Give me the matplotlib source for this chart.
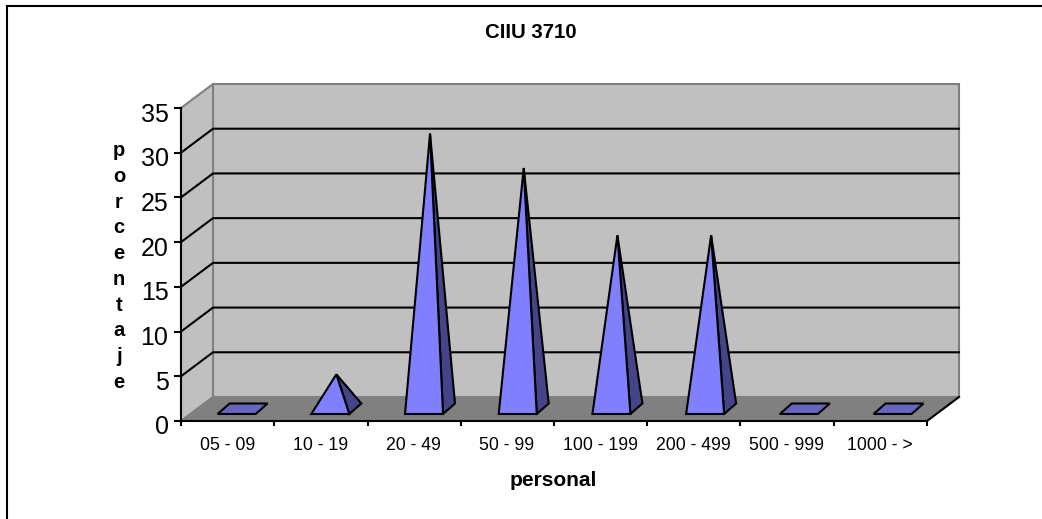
import matplotlib
matplotlib.use('Agg')
import matplotlib.pyplot as plt
from matplotlib.lines import Line2D
from matplotlib.patches import Polygon
from matplotlib.transforms import ScaledTranslation

categorias = ['05 - 09', '10 - 19', '20 - 49', '50 - 99', '100 - 199', '200 - 499', '500 - 999', '1000 - >']
porcentaje = [0, 3.85, 30.77, 26.92, 19.4, 19.4, 0, 0]
y_ticks = [0, 5, 10, 15, 20, 25, 30, 35]

W, H = 1042, 519
plt.rcParams['font.family'] = ['Liberation Sans', 'DejaVu Sans']

fig = plt.figure(figsize=(W / 100, H / 100), dpi=100)
ax = fig.add_axes([181 / W, 1 - 421 / H, 746 / W, 313 / H])
ax.set_xlim(-0.5, 7.5)
ax.set_ylim(0, 35)
ax.patch.set_visible(False)

# pixeles -> unidades de datos
px = 8 / 746
py = 35 / 313
dx, dy = 32 * px, 24 * py      # profundidad de la caja 3D
x0, x1 = -0.5, 7.5


def poly(pts, **kw):
    ax.add_patch(Polygon(pts, closed=True, clip_on=False, **kw))


# paredes y piso
poly([(x0 + dx, dy), (x1 + dx, dy), (x1 + dx, 35 + dy), (x0 + dx, 35 + dy)],
     facecolor='#C0C0C0', edgecolor='#808080', lw=1.5, zorder=1)
poly([(x0, 0), (x0 + dx, dy), (x0 + dx, 35 + dy), (x0, 35)],
     facecolor='#C0C0C0', edgecolor='#808080', lw=1.5, zorder=1)
poly([(x0, 0), (x1, 0), (x1 + dx, dy), (x0 + dx, dy)],
     facecolor='#808080', edgecolor='#808080', lw=1, zorder=2)

# lineas de la grilla
for t in y_ticks[1:-1]:
    ax.plot([x0, x0 + dx, x1 + dx], [t, t + dy, t + dy], color='black', lw=1.5,
            clip_on=False, zorder=3)
ax.plot([x1, x1 + dx], [0, dy], color='black', lw=1.5, clip_on=False, zorder=3)

# piramides
half = 19 * px
prof_x, prof_y = 12 * px, 10.5 * py
centro = 9 * px
paso = 93.7 * px     # en el original las piramides quedan un poco mas separadas
base_y = 7 * py
for i, v in enumerate(porcentaje):
    xc = i * paso + centro
    xl = xc - half
    xr = xc + half
    yb = base_y
    if v == 0:
        poly([(xl, yb), (xr, yb), (xr + prof_x, yb + prof_y), (xl + prof_x, yb + prof_y)],
             facecolor='#6666C0', edgecolor='black', lw=1.5, joinstyle='miter', zorder=5)
        continue
    apex = (xc + prof_x / 2, yb + prof_y / 2 + v)
    poly([(xr, yb), (xr + prof_x, yb + prof_y), apex],
         facecolor='#444488', edgecolor='black', lw=1.5, joinstyle='miter', zorder=5)
    poly([(xl, yb), (xr, yb), apex],
         facecolor='#8080FF', edgecolor='black', lw=1.5, joinstyle='miter', zorder=6)

# ejes
for s in ['top', 'right']:
    ax.spines[s].set_visible(False)
for s in ['left', 'bottom']:
    ax.spines[s].set_linewidth(1.5)
    ax.spines[s].set_zorder(4)
ax.set_yticks(y_ticks)
ax.tick_params(axis='y', labelsize=18, length=5, width=1.5, pad=4)
ax.set_xticks([i - 0.5 for i in range(9)])
ax.set_xticklabels([])
ax.set_xticks(range(8), categorias, minor=True)
ax.tick_params(axis='x', which='major', length=3.5, width=1.5)
ax.tick_params(axis='x', which='minor', length=0, labelsize=12.7, pad=11.5)

# las etiquetas del eje y van un poco por debajo de su marca
bajar = ScaledTranslation(0, -4 / 100, fig.dpi_scale_trans)
for lab in ax.get_yticklabels():
    lab.set_transform(lab.get_transform() + bajar)
izq = ScaledTranslation(-0.5 / 100, 0, fig.dpi_scale_trans)
for lab in ax.get_xticklabels(minor=True):
    lab.set_transform(lab.get_transform() + izq)

fig.text(530.5 / W, 1 - 33 / H, 'CIIU 3710', ha='center', va='center', fontsize=14.7, fontweight='bold')
fig.text(553 / W, 1 - 480 / H, 'personal', ha='center', va='center', fontsize=15, fontweight='bold')
fig.text(119 / W, 1 - 266.5 / H, 'p\no\nr\nc\ne\nn\nt\na\nj\ne', ha='center', va='center',
         multialignment='center', fontsize=14.5, fontweight='bold', linespacing=1.45)

# marco exterior: solo arriba y a la izquierda
fig.add_artist(Line2D([7 / W, 7 / W, 1], [0, 1 - 6 / H, 1 - 6 / H], transform=fig.transFigure,
                      color='black', lw=1.5, solid_joinstyle='miter'))

fig.savefig('out.png', dpi=100)
